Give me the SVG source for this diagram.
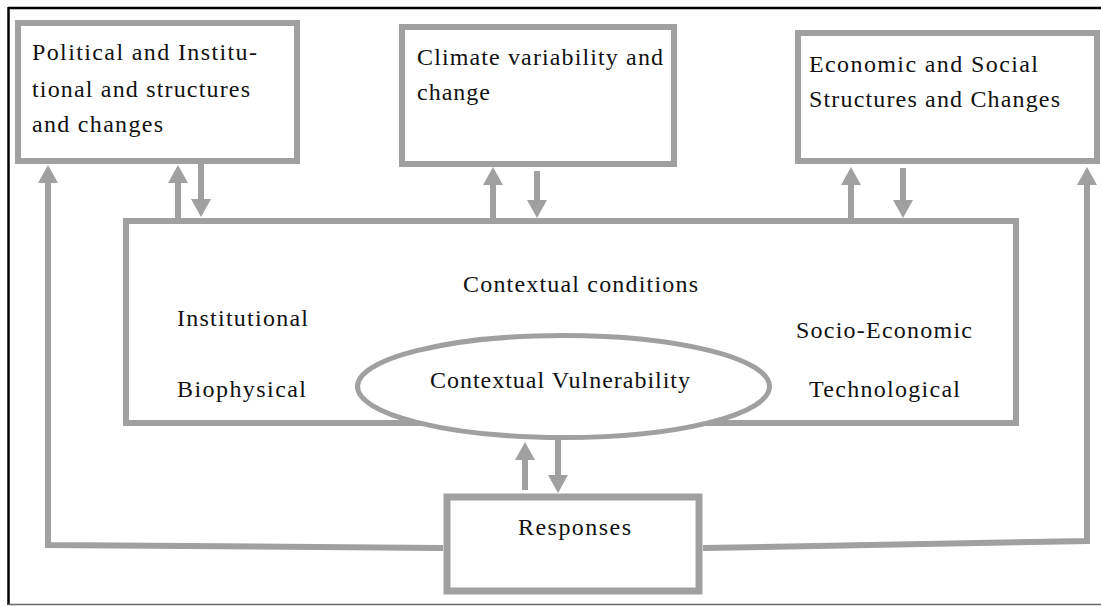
<svg xmlns="http://www.w3.org/2000/svg" width="1101" height="606" viewBox="0 0 1101 606">
  <style>
    .box { fill: #ffffff; stroke: #a0a0a0; stroke-width: 6; }
    .conn { fill: none; stroke: #a0a0a0; stroke-width: 6; stroke-linejoin: miter; }
    .lbl { font-family: "Liberation Serif", "Times New Roman", serif; font-size: 24px; fill: #111111; }
  </style>
  <defs>
    <marker id="head" viewBox="0 0 18 20" refX="0" refY="10" markerWidth="18" markerHeight="20" markerUnits="userSpaceOnUse" orient="auto">
      <path d="M0,0 L18,10 L0,20 z" fill="#a0a0a0"/>
    </marker>
  </defs>

  <!-- frame -->
  <rect x="0" y="0" width="1101" height="606" fill="#ffffff"/>
  <line x1="8" y1="8" x2="1101" y2="8" stroke="#000000" stroke-width="2.5"/>
  <line x1="8.5" y1="7" x2="8.5" y2="605" stroke="#000000" stroke-width="2.5"/>
  <line x1="8" y1="604.5" x2="1101" y2="604.5" stroke="#666666" stroke-width="1.5"/>

  <!-- connectors -->
  <g id="connectors">
    <path class="conn" d="M443,548 L48,545 L48,183" marker-end="url(#head)"/>
    <path class="conn" d="M703,548 L1087,541 L1087,185" marker-end="url(#head)"/>
    <path class="conn" d="M178,218 L178,183" marker-end="url(#head)"/>
    <path class="conn" d="M201,164 L201,199" marker-end="url(#head)"/>
    <path class="conn" d="M493,218 L493,185" marker-end="url(#head)"/>
    <path class="conn" d="M537,171 L537,200" marker-end="url(#head)"/>
    <path class="conn" d="M851,218 L851,185" marker-end="url(#head)"/>
    <path class="conn" d="M903,168 L903,200" marker-end="url(#head)"/>
    <path class="conn" d="M525,490 L525,460" marker-end="url(#head)"/>
    <path class="conn" d="M558,440 L558,475" marker-end="url(#head)"/>
  </g>

  <g id="political">
    <rect class="box" x="18" y="23" width="279" height="138"/>
    <text class="lbl" x="32" y="60" textLength="225" lengthAdjust="spacing">Political and Institu-</text>
    <text class="lbl" x="32" y="97" textLength="218" lengthAdjust="spacing">tional and structures</text>
    <text class="lbl" x="32" y="132" textLength="131" lengthAdjust="spacing">and changes</text>
  </g>

  <g id="climate">
    <rect class="box" x="402" y="27" width="272" height="137"/>
    <text class="lbl" x="417" y="65" textLength="246" lengthAdjust="spacing">Climate variability and</text>
    <text class="lbl" x="417" y="100" textLength="73" lengthAdjust="spacing">change</text>
  </g>

  <g id="economic">
    <rect class="box" x="798" y="33" width="299" height="128"/>
    <text class="lbl" x="809" y="72" textLength="229" lengthAdjust="spacing">Economic and Social</text>
    <text class="lbl" x="809" y="107" textLength="251" lengthAdjust="spacing">Structures and Changes</text>
  </g>

  <g id="context">
    <rect class="box" x="126" y="221" width="890" height="202"/>
    <text class="lbl" x="463" y="292" textLength="235" lengthAdjust="spacing">Contextual conditions</text>
    <text class="lbl" x="177" y="326" textLength="131" lengthAdjust="spacing">Institutional</text>
    <text class="lbl" x="177" y="397" textLength="129" lengthAdjust="spacing">Biophysical</text>
    <text class="lbl" x="796" y="338" textLength="176" lengthAdjust="spacing">Socio-Economic</text>
    <text class="lbl" x="809" y="397" textLength="151" lengthAdjust="spacing">Technological</text>
  </g>

  <g id="vulnerability">
    <ellipse cx="563.5" cy="386.5" rx="206" ry="51" fill="#ffffff" stroke="#a0a0a0" stroke-width="5"/>
    <text class="lbl" x="430" y="388" textLength="260" lengthAdjust="spacing">Contextual Vulnerability</text>
  </g>

  <g id="responses">
    <rect class="box" x="447" y="497" width="252" height="94" style="stroke-width:7"/>
    <text class="lbl" x="518" y="535" textLength="113" lengthAdjust="spacing">Responses</text>
  </g>
</svg>
